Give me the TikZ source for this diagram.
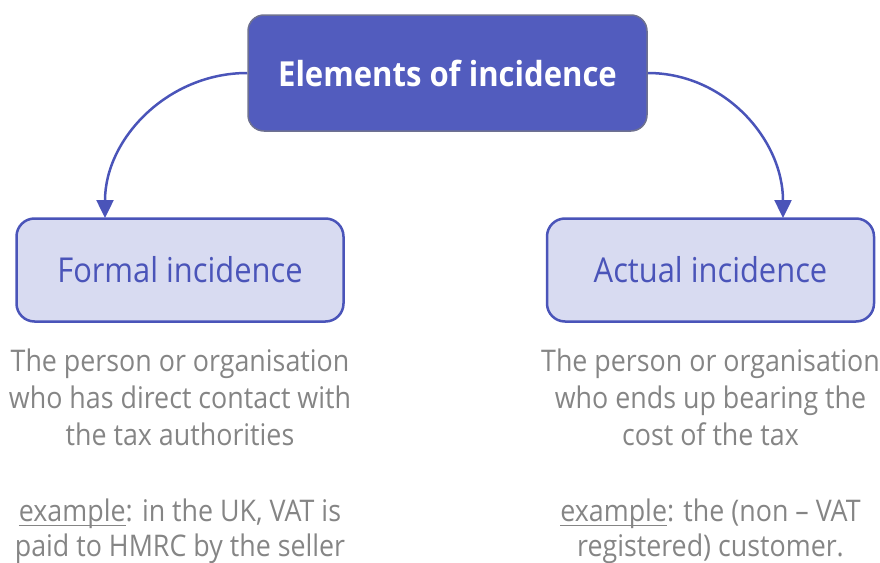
\documentclass[tikz,border=0pt]{standalone}
\usepackage{fontspec}
\setmainfont[FakeStretch=0.9]{Open Sans}
\usetikzlibrary{arrows.meta}

\definecolor{headfill}{HTML}{525CBE}
\definecolor{headline}{HTML}{6E7190}
\definecolor{boxfill}{HTML}{D8DBF1}
\definecolor{boxline}{HTML}{4A54B9}
\definecolor{notegray}{HTML}{858585}

% underline that runs close under the baseline
\newcommand{\exword}[1]{\setbox0\hbox{#1}\rlap{\rule[-5pt]{\wd0}{1.3pt}}#1}

\tikzset{
    head/.style={draw=headline, line width=1.5pt, fill=headfill, rounded corners=16pt,
        minimum width=399pt, minimum height=116pt, text=white,
        font=\fontsize{34.5}{40}\selectfont\bfseries},
    kind/.style={draw=boxline, line width=2.5pt, fill=boxfill, rounded corners=18pt,
        minimum width=327pt, minimum height=103pt, text=boxline,
        font=\fontsize{34.3}{40}\selectfont},
    note/.style={align=center, text=notegray, inner sep=0pt,
        font=\fontsize{29.8}{37}\selectfont},
    flow/.style={draw=boxline, line width=2.5pt, -{Triangle[width=17pt,length=18pt]}}
}

\begin{document}
\begin{tikzpicture}[x=1pt,y=-1pt]
    \useasboundingbox (0,0) rectangle (880,562);

    \node[head] (top) at (447.5,73) {Elements of incidence};

    \node[kind] (formal) at (180,270) {Formal incidence};
    \node[kind] (actual) at (710.5,270) {Actual incidence};

    % arrow ends sit on the top edge of each box
    \coordinate (fin) at (105,218);
    \coordinate (ain) at (783,218);
    \draw[flow] (top.west) to[out=180,in=90] (fin);
    \draw[flow] (top.east) to[out=0,in=90] (ain);

    \node[note] (fdesc) at (180,397) {The person or organisation\\who has direct contact with\\the tax authorities};
    \node[note] (adesc) at (710.5,397) {The person or organisation\\who ends up bearing the\\cost of the tax};

    \node[note, font=\fontsize{29.8}{35}\selectfont] (fex) at (180,531) {\exword{example}: in the UK, VAT is\\paid to HMRC by the seller};
    \node[note, font=\fontsize{29.8}{35}\selectfont] (aex) at (710.5,531) {\exword{example}: the (non – VAT\\registered) customer.};

\end{tikzpicture}
\end{document}
